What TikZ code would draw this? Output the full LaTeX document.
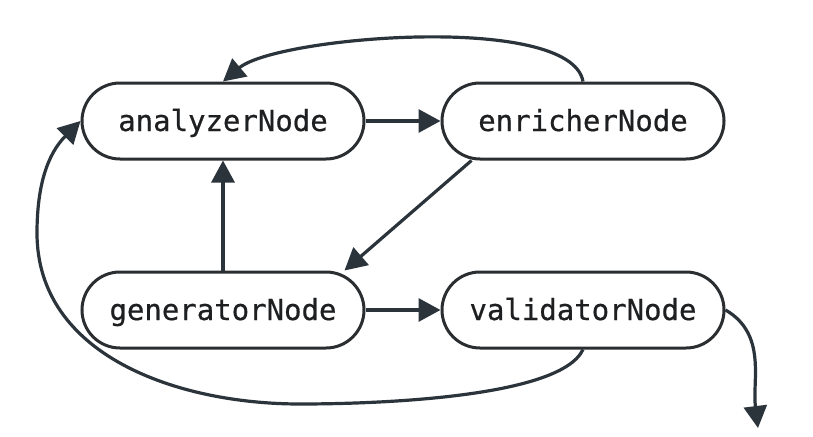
\documentclass[tikz,border=0pt]{standalone}
\usepackage{fontspec}
\newfontfamily\stagefont[FakeBold=0.6]{DejaVu Sans Mono}
\usetikzlibrary{arrows.meta,calc}
\definecolor{inkline}{HTML}{2B2E31}
\definecolor{inkarrow}{HTML}{2C343B}
\definecolor{inktext}{HTML}{1E1F21}
\tikzset{
  stage/.style={draw=inkline, line width=3pt, fill=white,
    minimum width=282pt, minimum height=76pt, rounded corners=38pt,
    inner sep=0pt, text=inktext,
    font=\stagefont\fontsize{29}{31}\selectfont,
    text height=20pt, text depth=0pt},
  flow/.style={draw=inkarrow, line width=3.2pt,
    -{Triangle[length=22pt,width=23pt]}},
}
\begin{document}
\begin{tikzpicture}[x=1pt,y=1pt]
  \fill[white] (0,0) rectangle (813,-436);
  \useasboundingbox (0,0) rectangle (813,-436);

  % pipeline stages
  \node[stage] (ana) at (223,-121) {analyzerNode};
  \node[stage] (enr) at (583,-121) {enricherNode};
  \node[stage] (gen) at (223,-310) {generatorNode};
  \node[stage] (val) at (583,-310) {validatorNode};

  % straight transitions
  \draw[flow] (ana.east) -- (enr.west);
  \draw[flow] (gen.east) -- (val.west);
  \draw[flow] (gen.north) -- (ana.south);
  \draw[flow] ([xshift=31pt]enr.south west) -- ([xshift=-21pt]gen.north east);

  % loop back from the enricher over the top
  \draw[flow] (enr.north) to[out=100, in=40, looseness=0.5] (ana.north);

  % loop back from the validator round the left side
  \coordinate (low) at (300,-404);
  \coordinate (side) at (37,-233);
  \draw[flow] (val.south) to[out=-115, in=0, looseness=0.5] (low)
    to[out=180, in=-90] (side) to[out=90, in=225] (ana.west);

  % exit
  \coordinate (done) at (758,-428);
  \draw[flow] (val.east) to[out=-30, in=97] (done);
\end{tikzpicture}
\end{document}
